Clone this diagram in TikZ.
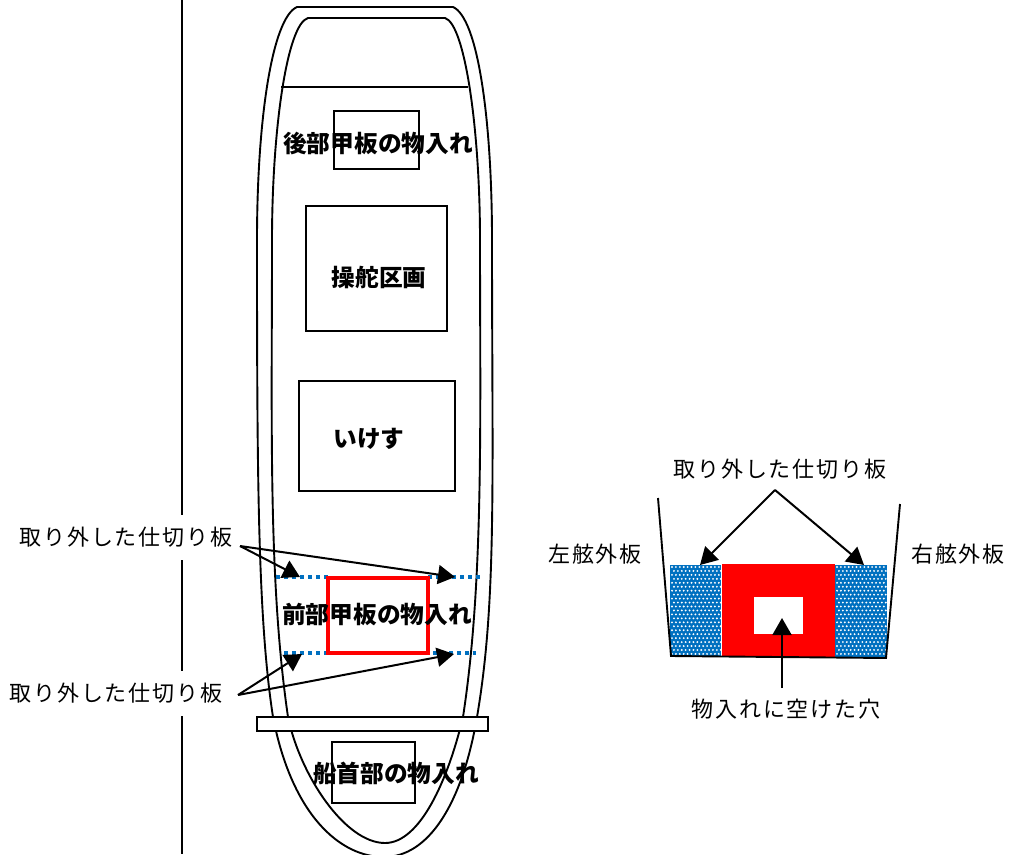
\documentclass[tikz,border=0pt]{standalone}
\usepackage{fontspec}
\setmainfont{Noto Sans CJK JP}
\newfontfamily\jpl[LetterSpace=8]{Noto Sans CJK JP}
\usetikzlibrary{arrows.meta}
\definecolor{dotblue}{RGB}{0,112,192}
\tikzset{
 every picture/.style={x=1pt,y=-1pt},
 hull/.style={draw=black,line width=1.9pt},
 boxn/.style={draw=black,line width=1.9pt,minimum width=#1,inner sep=0pt},
 lbl/.style={font=\fontsize{22}{26}\selectfont\jpl,inner sep=0pt,text=black},
 blbl/.style={font=\fontsize{23.7}{28}\selectfont\bfseries,inner sep=0pt,text=black},
 arr/.style={draw=black,line width=2pt,-{Triangle[length=17pt,width=19pt]}},
 sep/.style={draw=dotblue,line width=3.5pt,dash pattern=on 4pt off 4pt},
}
\begin{document}
\begin{tikzpicture}
\useasboundingbox (0,0) rectangle (1011,854);
\draw[hull] (182,0) -- (182,854);
\begin{scope}
\clip (0,0) rectangle (1011,854);
\draw[hull] (297,7) -- (453,7)
  .. controls (478,18) and (492,120) .. (492,240)
  .. controls (492,480) and (497,600) .. (477,717)
  .. controls (462,805) and (428,857) .. (384,857)
  .. controls (340,857) and (292,815) .. (273,717)
  .. controls (258,620) and (257,480) .. (257,240)
  .. controls (257,120) and (272,18) .. (297,7) -- cycle;
\draw[hull] (308,18) -- (445,18)
  .. controls (465,24) and (480,130) .. (480,240)
  .. controls (480,420) and (484,580) .. (463,717)
  .. controls (448,780) and (420,843) .. (385,843)
  .. controls (345,843) and (300,775) .. (288,717)
  .. controls (268,580) and (272,420) .. (272,240)
  .. controls (272,130) and (287,24) .. (308,18) -- cycle;
\end{scope}
\draw[hull] (281,87) -- (468,87);
\node[draw=black,line width=1.5pt,minimum width=85pt,minimum height=58pt,inner sep=0pt] (rearbox) at (376.5,140) {};
\node[blbl] (rear) at (378,143) {後部甲板の物入れ};
\node[boxn=141pt,minimum height=125pt] (steer) at (376.5,268.5) {};
\node[blbl] at (379,277) {操舵区画};
\node[boxn=156pt,minimum height=110pt] (well) at (377,436) {};
\node[blbl] at (369,439) {いけす};
\coordinate (sa1) at (276,577); \coordinate (sa2) at (328,577);
\coordinate (sb1) at (428,577); \coordinate (sb2) at (480,577);
\coordinate (sc1) at (284,653); \coordinate (sc2) at (328,653);
\coordinate (sd1) at (433,653); \coordinate (sd2) at (476,653);
\draw[sep] (sa1) -- (sa2); \draw[sep] (sb1) -- (sb2);
\draw[sep] (sc1) -- (sc2); \draw[sep] (sd1) -- (sd2);
\node[draw=red,line width=3.2pt,minimum width=100pt,minimum height=75pt,inner sep=0pt] (redbox) at (378,615.5) {};
\node[blbl] (front) at (377,615) {前部甲板の物入れ};
\node[draw=black,fill=white,line width=1.9pt,minimum width=231pt,minimum height=14pt,inner sep=0pt] (plank) at (372.5,724) {};
\node[draw=black,line width=1.5pt,minimum width=83pt,minimum height=61pt,inner sep=0pt] (bowbox) at (373.5,772.5) {};
\node[blbl] (bow) at (396,773) {船首部の物入れ};
\node[lbl,fill=white,minimum height=45pt] (l1) at (126,537.5) {取り外した仕切り板};
\node[lbl,fill=white,minimum height=45pt] (l2) at (116,693.5) {取り外した仕切り板};
\coordinate (t1) at (240,546); \coordinate (t2) at (238,695);
\coordinate (h1) at (300,577); \coordinate (h2) at (455,577);
\coordinate (h3) at (302,654); \coordinate (h4) at (454,654);
\draw[arr] (t1) -- (h1); \draw[arr] (t1) -- (h2);
\draw[arr] (t2) -- (h3); \draw[arr] (t2) -- (h4);
% cross-section
\fill[dotblue] (670,565) rectangle (721,656);
\fill[dotblue] (835,565) rectangle (887,657);
\foreach \x in {0,...,12}\foreach \y in {0,...,22}{
  \fill[white] ({672+\x*3.9+mod(\y,2)*1.95},{567+\y*3.95}) circle (1.05pt);
  \fill[white] ({837+\x*3.9+mod(\y,2)*1.95},{567+\y*3.95}) circle (1.05pt);
}
\fill[red] (722,564) rectangle (835,657);
\node[fill=white,minimum width=49pt,minimum height=37pt,inner sep=0pt] (hole) at (778.5,615.5) {};
\coordinate (wl1) at (658,498); \coordinate (wl2) at (671,656);
\coordinate (wr1) at (900,504); \coordinate (wr2) at (886,658);
\draw[hull] (wl1) -- (wl2) -- (wr2) -- (wr1);
\node[lbl] (l3) at (780,469) {取り外した仕切り板};
\node[lbl] (port) at (595,554) {左舷外板};
\node[lbl] (stbd) at (958,554) {右舷外板};
\node[lbl] (l4) at (786,709) {物入れに空けた穴};
\coordinate (ap) at (775,490); \coordinate (pl) at (700,565); \coordinate (pr) at (864,565);
\coordinate (ut) at (782,688); \coordinate (uh) at (782,618);
\draw[arr] (ap) -- (pl); \draw[arr] (ap) -- (pr);
\draw[arr] (ut) -- (uh);
\end{tikzpicture}
\end{document}
